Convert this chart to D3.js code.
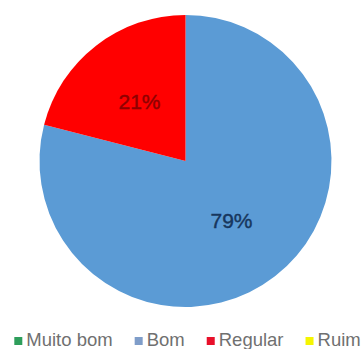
<!DOCTYPE html>
<html>
<head>
<meta charset="utf-8">
<script src="https://cdn.jsdelivr.net/npm/d3@7"></script>
<style>
  html, body { margin: 0; padding: 0; background: #ffffff; }
  svg { display: block; font-family: "Liberation Sans", Arial, sans-serif; }
</style>
</head>
<body>
<svg id="chart" width="363" height="349"></svg>
<script>
// Survey answers and their shares (percent)
const categories = ["Muito bom", "Bom", "Regular", "Ruim"];
const values = [0, 79, 21, 0];
const sliceColors = ["#2e9e5b", "#5b9bd5", "#ff0000", "#ffff00"];
const legendColors = ["#2e9e5b", "#7f9dc9", "#e8102a", "#f5f500"];
const labelColors = ["#0f3d22", "#17365d", "#8e0000", "#5a5a00"];

const width = 363, height = 349;
const cx = 185.5, cy = 161, radius = 146;

const svg = d3.select("#chart");

const data = categories.map((c, i) => ({ category: c, value: values[i], index: i }));

const pie = d3.pie().sort(null).value(d => d.value);
const arcs = pie(data);

const arc = d3.arc().innerRadius(0).outerRadius(radius);
const labelArc = d3.arc().innerRadius(75).outerRadius(75);

const g = svg.append("g").attr("transform", `translate(${cx},${cy})`);

g.selectAll("path.slice")
  .data(arcs.filter(a => a.data.value > 0))
  .join("path")
  .attr("class", "slice")
  .attr("d", arc)
  .attr("fill", d => sliceColors[d.data.index]);

g.selectAll("text.pct")
  .data(arcs.filter(a => a.data.value > 0))
  .join("text")
  .attr("class", "pct")
  .attr("transform", d => `translate(${labelArc.centroid(d)})`)
  .attr("text-anchor", "middle")
  .attr("dy", "0.36em")
  .attr("font-size", 21)
  .attr("fill", d => labelColors[d.data.index])
  .attr("stroke", d => labelColors[d.data.index])
  .attr("stroke-width", 0.4)
  .text(d => `${d.data.value}%`);

// Legend along the bottom, centred horizontally
const legend = svg.append("g").attr("class", "legend");
const sw = 8, textGap = 12, itemGap = 22, baseline = 346;

const items = legend.selectAll("g.item")
  .data(data)
  .join("g")
  .attr("class", "item");

items.append("rect")
  .attr("width", sw)
  .attr("height", sw)
  .attr("y", baseline - 9)
  .attr("fill", d => legendColors[d.index]);

items.append("text")
  .attr("x", textGap)
  .attr("y", baseline)
  .attr("font-size", 18.5)
  .attr("fill", "#707070")
  .text(d => d.category);

let x = 0;
const offsets = [];
items.each(function () {
  const w = textGap + d3.select(this).select("text").node().getComputedTextLength();
  offsets.push(x);
  x += w + itemGap;
});
const total = x - itemGap;
const startX = 187.5 - total / 2;
items.attr("transform", (d, i) => `translate(${startX + offsets[i]},0)`);
</script>
</body>
</html>
